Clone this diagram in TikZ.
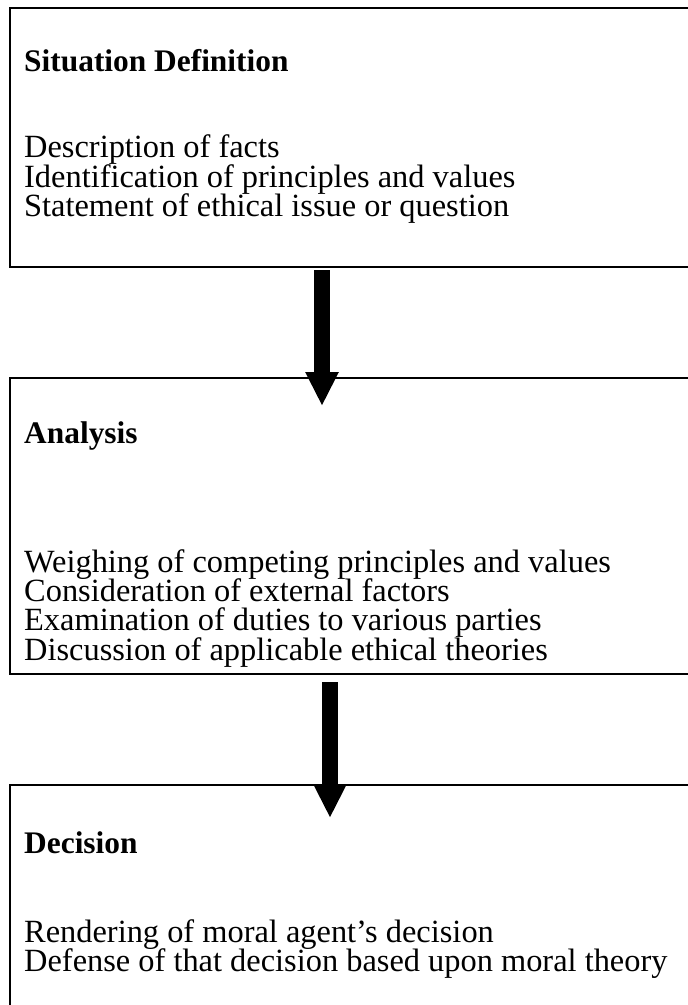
\documentclass[tikz,border=0pt]{standalone}
\usepackage{fontspec}
\setmainfont{Liberation Serif}
\usetikzlibrary{arrows.meta}
\tikzset{
  stagebox/.style={draw=black, line width=2pt, anchor=north west, inner sep=0pt},
  head/.style={anchor=base west, inner sep=0pt, font=\fontsize{31.4}{34}\selectfont\bfseries},
  item/.style={anchor=base west, inner sep=0pt, font=\fontsize{32.4}{34}\selectfont},
  bigarrow/.style={line width=16pt, -{Triangle[width=31pt,length=34pt]}}
}
\begin{document}
\begin{tikzpicture}[x=1pt,y=-1pt]
\useasboundingbox (0,0) rectangle (688,1005);
\clip (0,0) rectangle (688,1005);
% boxes
\node[stagebox, minimum width=700pt, minimum height=259pt] (b1) at (8.5,7) {};
\node[stagebox, minimum width=700pt, minimum height=296pt] (b2) at (8.5,377) {};
\node[stagebox, minimum width=700pt, minimum height=260pt] (b3) at (8.5,784) {};
% texts
\node[head] (h1) at (24,71) {Situation Definition};
\node[item] (t11) at (24,157) {Description of facts};
\node[item] (t12) at (24,187) {Identification of principles and values};
\node[item] (t13) at (24,216) {Statement of ethical issue or question};
\node[head] (h2) at (24,443) {Analysis};
\node[item] (t21) at (24,572) {Weighing of competing principles and values};
\node[item] (t22) at (24,601) {Consideration of external factors};
\node[item] (t23) at (24,630) {Examination of duties to various parties};
\node[item] (t24) at (24,660) {Discussion of applicable ethical theories};
\node[head] (h3) at (24,853) {Decision};
\node[item] (t31) at (24,942) {Rendering of moral agent’s decision};
\node[item] (t32) at (24,971) {Defense of that decision based upon moral theory};
% arrows
\coordinate (a1s) at (322,270);
\coordinate (a1e) at (322,406);
\coordinate (a2s) at (330,682);
\coordinate (a2e) at (330,818);
\draw[bigarrow] (a1s) -- (a1e);
\draw[bigarrow] (a2s) -- (a2e);
\end{tikzpicture}
\end{document}
